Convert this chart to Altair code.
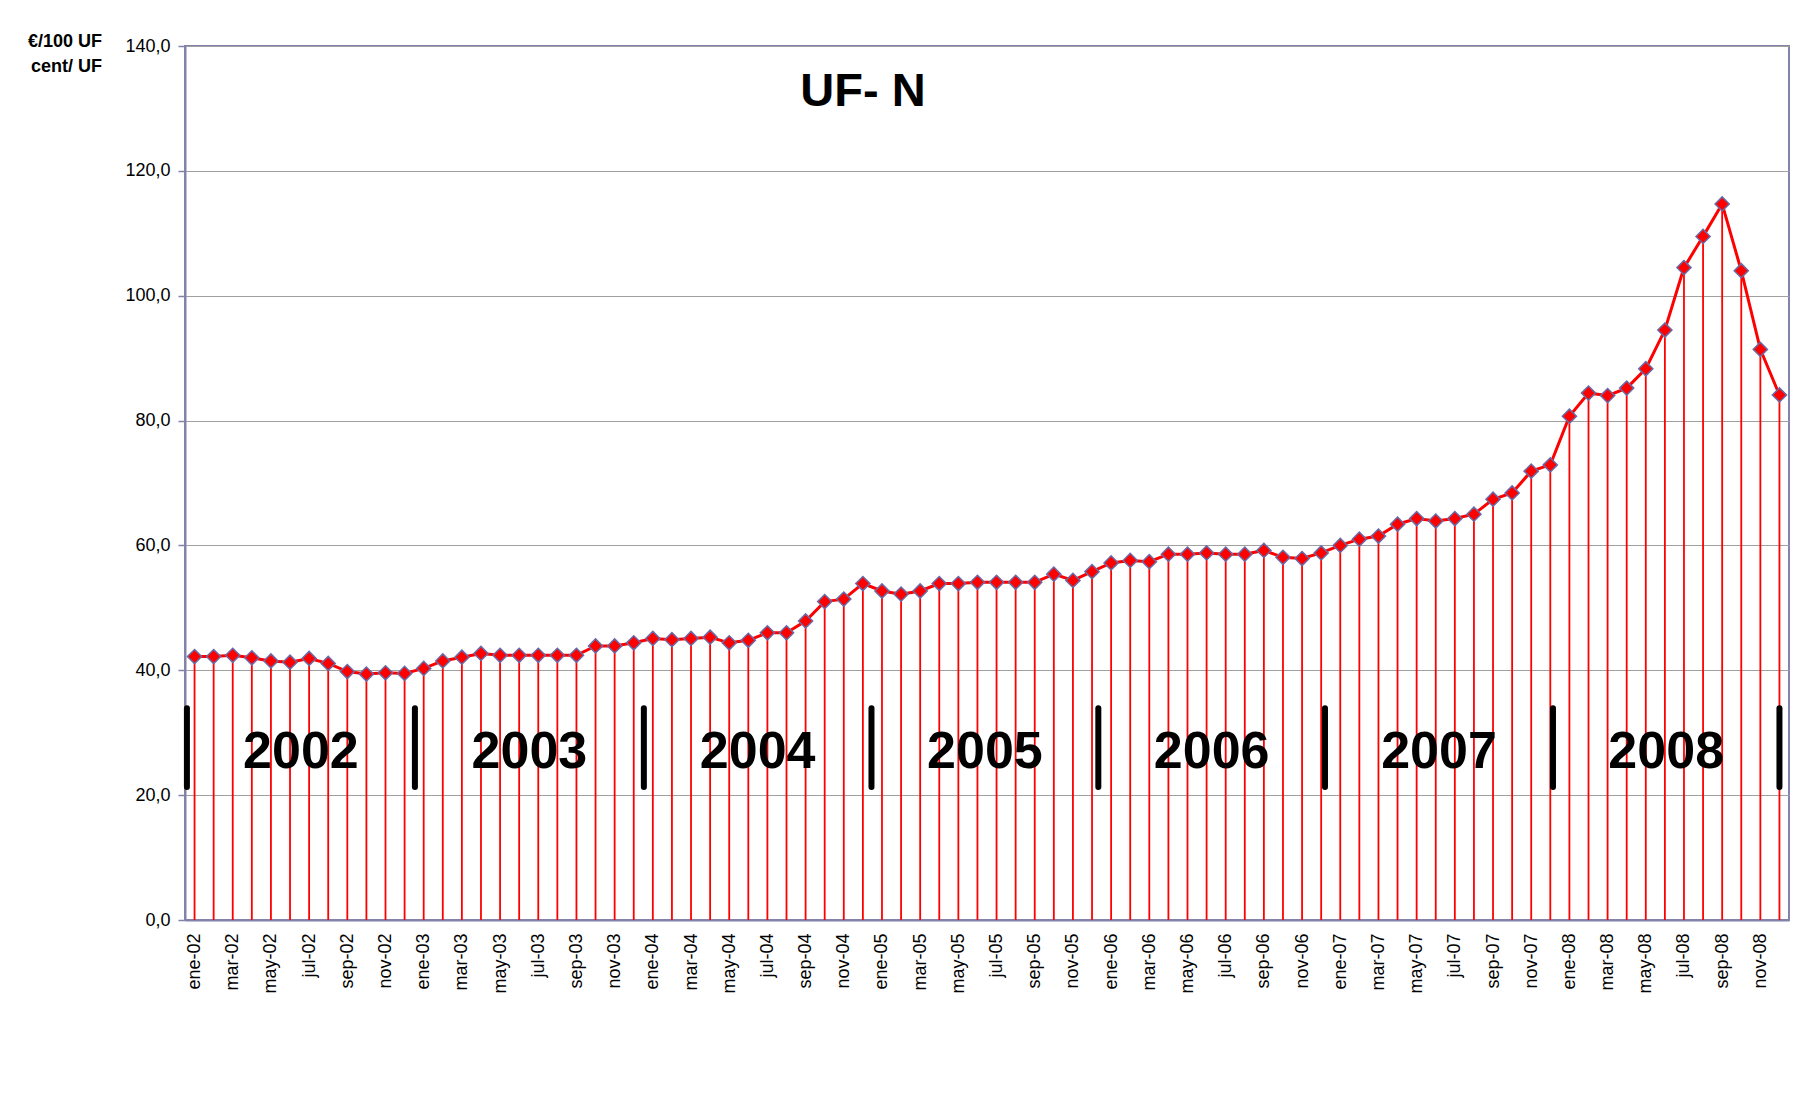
import json
import altair as alt
import pandas as pd

month_names = ["ene", "feb", "mar", "abr", "may", "jun", "jul", "ago", "sep", "oct", "nov", "dic"]
years = ["02", "03", "04", "05", "06", "07", "08"]
month_labels = [f"{m}-{y}" for y in years for m in month_names]

values_2002 = [42.2, 42.2, 42.4, 42.0, 41.5, 41.3, 41.9, 41.1, 39.8, 39.4, 39.6, 39.5]
values_2003 = [40.3, 41.5, 42.1, 42.7, 42.4, 42.4, 42.4, 42.4, 42.4, 43.9, 43.9, 44.4]
values_2004 = [45.1, 44.9, 45.1, 45.3, 44.4, 44.8, 46.0, 46.0, 47.9, 51.0, 51.4, 53.9]
values_2005 = [52.7, 52.2, 52.7, 53.9, 53.9, 54.1, 54.1, 54.1, 54.1, 55.4, 54.4, 55.8]
values_2006 = [57.2, 57.6, 57.4, 58.6, 58.6, 58.8, 58.6, 58.6, 59.2, 58.1, 57.9, 58.8]
values_2007 = [60.0, 61.0, 61.5, 63.4, 64.3, 63.9, 64.3, 65.0, 67.4, 68.4, 71.9, 72.9]
values_2008 = [80.7, 84.4, 84.0, 85.2, 88.3, 94.5, 104.5, 109.5, 114.7, 104.0, 91.4, 84.1]
values = values_2002 + values_2003 + values_2004 + values_2005 + values_2006 + values_2007 + values_2008

year_labels = ["2002", "2003", "2004", "2005", "2006", "2007", "2008"]
divider_months = [-0.4, 11.54, 23.53, 35.45, 47.33, 59.2, 71.14, 83.0]
y_ticks = [0, 20, 40, 60, 80, 100, 120, 140]
title_text = "UF- N"
unit_lines = ["€/100 UF", "cent/ UF"]

FONT = "Liberation Sans"
RED = "#ff0000"
FRAME = "#8282aa"

df = pd.DataFrame({"i": list(range(len(values))), "mes": month_labels, "v": values})
div_df = pd.DataFrame({"pos": divider_months})
yr_df = pd.DataFrame({
    "label": year_labels,
    "c": [(divider_months[k] + divider_months[k + 1]) / 2 for k in range(len(year_labels))],
})

x_axis = alt.Axis(
    values=list(range(0, 84, 2)),
    labelExpr=json.dumps(month_labels) + "[datum.value]",
    labelAngle=-90,
    labelAlign="right",
    labelBaseline="middle",
    labelPadding=13,
    labelFontSize=18,
    labelFont=FONT,
    labelColor="black",
    ticks=False,
    grid=False,
    domainColor=FRAME,
    domainWidth=2,
    title=None,
    labelOverlap=False,
    labelFlush=False,
    labelBound=False,
)
x_scale = alt.Scale(domain=[-0.5, 83.5], nice=False, zero=False)
x_enc = alt.X("i:Q", scale=x_scale, axis=x_axis)

y_axis = alt.Axis(
    values=y_ticks,
    labelExpr="replace(format(datum.value, '.1f'), '.', ',')",
    labelFontSize=18,
    labelFont=FONT,
    labelColor="black",
    tickSize=7,
    tickColor=FRAME,
    tickWidth=1.5,
    labelPadding=8,
    grid=True,
    gridColor="#a0a0a0",
    gridWidth=1,
    domainColor=FRAME,
    domainWidth=2,
    title=None,
)
y_scale = alt.Scale(domain=[0, 140], nice=False)
y_enc = alt.Y("v:Q", scale=y_scale, axis=y_axis)

base = alt.Chart(df)
stems = base.mark_rule(color=RED, strokeWidth=1.8).encode(x=x_enc, y=y_enc, y2=alt.datum(0))
line = base.mark_line(color=RED, strokeWidth=3).encode(x=x_enc, y=y_enc)
points = base.mark_point(
    shape="diamond", filled=True, fill=RED, stroke="#6a6aa6", strokeWidth=1.5, size=200, opacity=1
).encode(x=x_enc, y=y_enc)

dividers = alt.Chart(div_df).mark_rule(color="black", strokeWidth=6, strokeCap="round").encode(
    x=alt.X("pos:Q", scale=x_scale, axis=x_axis), y=alt.datum(21.3), y2=alt.datum(33.9)
)
year_text = alt.Chart(yr_df).mark_text(
    font=FONT, fontSize=52, fontWeight="bold", color="black", align="center", baseline="alphabetic"
).encode(x=alt.X("c:Q", scale=x_scale, axis=x_axis), y=alt.datum(24.3), text="label:N")

title = alt.Chart(pd.DataFrame({"t": [title_text]})).mark_text(
    font=FONT, fontSize=47, fontWeight="bold", color="black", align="center", baseline="alphabetic"
).encode(x=alt.value(678), y=alt.value(59.5), text="t:N")

unit1 = alt.Chart(pd.DataFrame({"t": [unit_lines[0]]})).mark_text(
    font=FONT, fontSize=18, fontWeight="bold", color="black", align="right", baseline="alphabetic"
).encode(x=alt.value(-83), y=alt.value(0.5), text="t:N")
unit2 = alt.Chart(pd.DataFrame({"t": [unit_lines[1]]})).mark_text(
    font=FONT, fontSize=18, fontWeight="bold", color="black", align="right", baseline="alphabetic"
).encode(x=alt.value(-83), y=alt.value(25.5), text="t:N")

chart = alt.layer(stems, line, points, dividers, year_text, title, unit1, unit2).properties(
    width=1604,
    height=874,
    autosize=alt.AutoSizeParams(type="none"),
    padding={"left": 177, "top": 38, "right": 15, "bottom": 150},
    background="white",
).configure_view(stroke=FRAME, strokeWidth=2).configure_axisX(labelOverlap=False)

chart.save("out.html", embed_options={"renderer": "svg", "actions": False})
